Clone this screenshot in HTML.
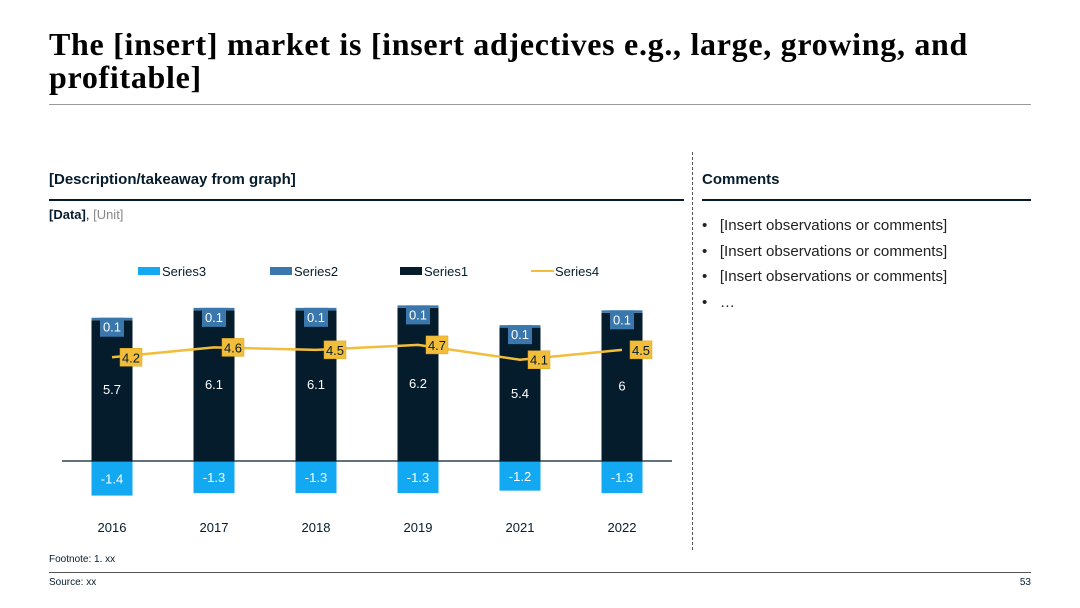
<!DOCTYPE html>
<html><head><meta charset="utf-8"><style>
body{margin:0;background:#fff;}
#page{position:relative;width:1080px;height:608px;overflow:hidden;font-family:"Liberation Sans",Arial,sans-serif;color:#051C2C;}
.abs{position:absolute;}
</style></head><body>
<div id="page">
<div class="abs" style="left:49px;top:28px;width:990px;font-family:'Liberation Serif',serif;font-weight:bold;font-size:32px;line-height:33px;letter-spacing:0.7px;color:#000;">The [insert] market is [insert adjectives e.g., large, growing, and<br>profitable]</div>
<div class="abs" style="left:49px;top:104px;width:982px;height:1px;background:#999;"></div>
<div class="abs" style="left:49px;top:171px;font-weight:bold;font-size:15px;">[Description/takeaway from graph]</div>
<div class="abs" style="left:49px;top:199px;width:635px;height:2px;background:#051C2C;"></div>
<div class="abs" style="left:49px;top:207px;font-size:13px;"><b>[Data]</b>, <span style="color:#888">[Unit]</span></div>
<div class="abs" style="left:692px;top:152px;height:398px;border-left:1.5px dashed #555;"></div>
<div class="abs" style="left:702px;top:171px;font-weight:bold;font-size:15px;">Comments</div>
<div class="abs" style="left:702px;top:199px;width:329px;height:2px;background:#051C2C;"></div>
<div class="abs" style="left:702px;top:213px;font-size:15.1px;line-height:25.7px;color:#222;">
<div>•&nbsp;&nbsp;&nbsp;[Insert observations or comments]</div>
<div>•&nbsp;&nbsp;&nbsp;[Insert observations or comments]</div>
<div>•&nbsp;&nbsp;&nbsp;[Insert observations or comments]</div>
<div>•&nbsp;&nbsp;&nbsp;…</div>
</div>
<svg class="abs" style="left:0;top:0" width="1080" height="608" id="chart"></svg>
<div class="abs" style="left:49px;top:554px;font-size:10px;">Footnote: 1. xx</div>
<div class="abs" style="left:49px;top:572px;width:982px;height:1px;background:#555;"></div>
<div class="abs" style="left:49px;top:577px;font-size:10px;">Source: xx</div>
<div class="abs" style="left:1000px;width:31px;text-align:right;top:577px;font-size:10px;">53</div>
</div>
<script>
const categories=["2016","2017","2018","2019","2021","2022"];
const series1=[5.7,6.1,6.1,6.2,5.4,6];
const series2=[0.1,0.1,0.1,0.1,0.1,0.1];
const series3=[-1.4,-1.3,-1.3,-1.3,-1.2,-1.3];
const series4=[4.2,4.6,4.5,4.7,4.1,4.5];
const NS="http://www.w3.org/2000/svg";
const svg=document.getElementById('chart');
const base=461,unit=24.7,x0=112,step=102,bw=41;
const xc=i=>x0+i*step;
const y=v=>base-v*unit;
function mk(t,a,p){const e=document.createElementNS(NS,t);for(const k in a)e.setAttribute(k,a[k]);(p||svg).appendChild(e);return e;}
function txt(x,yy,s,fill,size,anchor){const e=mk('text',{x:x,y:yy,fill:fill,'font-size':size,'text-anchor':anchor||'middle','font-family':'Liberation Sans, Arial, sans-serif'});e.textContent=s;return e;}
const C1="#051C2C",C2="#3A77AC",C3="#12A8F2",C4="#F2BD3A";
categories.forEach((c,i)=>{
  const cx=xc(i);
  let r=mk('rect',{x:cx-bw/2,y:y(series1[i]),width:bw,height:series1[i]*unit,fill:C1});
  
  r=mk('rect',{x:cx-bw/2,y:y(series1[i]+series2[i]),width:bw,height:series2[i]*unit,fill:C2});
  
  r=mk('rect',{x:cx-bw/2,y:base,width:bw,height:-series3[i]*unit,fill:C3});
  
  const ty=y(series1[i]+series2[i]);
  r=mk('rect',{x:cx-12,y:ty,width:24,height:19,fill:C2});
  
  txt(cx,ty+14,String(series2[i]),'#fff',13);
  let t=txt(cx,y(series1[i])+ (series1[i]*unit)*0.49+5,String(series1[i]),'#fff',13);
  
  t=txt(cx,base-series3[i]*unit/2+5,String(series3[i]),'#fff',13);
  
  t=txt(cx,527+5,c,C1,13);
  
});
const ax=mk('line',{x1:62,x2:672,y1:base,y2:base,stroke:C1,'stroke-width':1.2});

const pts=series4.map((v,i)=>(xc(i))+','+y(v)).join(' ');
const pl=mk('polyline',{points:pts,fill:'none',stroke:C4,'stroke-width':2.5});

series4.forEach((v,i)=>{
  const cx=xc(i)+19,cy=y(v);
  const r=mk('rect',{x:cx-11,y:cy-9,width:22,height:18,fill:C4,stroke:'#d9a420','stroke-width':0.5});
  
  txt(cx,cy+5,String(v),C1,13);
});
const legend=[["Series3",C3,'box',138],["Series2",C2,'box',270],["Series1",C1,'box',400],["Series4",C4,'line',531]];
legend.forEach(l=>{
  const g=mk('g',{});
  
  if(l[2]=='box')mk('rect',{x:l[3],y:267,width:22,height:8,fill:l[1]},g);
  else mk('line',{x1:l[3],x2:l[3]+23,y1:271,y2:271,stroke:l[1],'stroke-width':2},g);
  const t=mk('text',{x:l[3]+24,y:276,'font-size':13,fill:'#051C2C','font-family':'Liberation Sans, Arial, sans-serif'},g);t.textContent=l[0];
});
</script>
</body></html>
